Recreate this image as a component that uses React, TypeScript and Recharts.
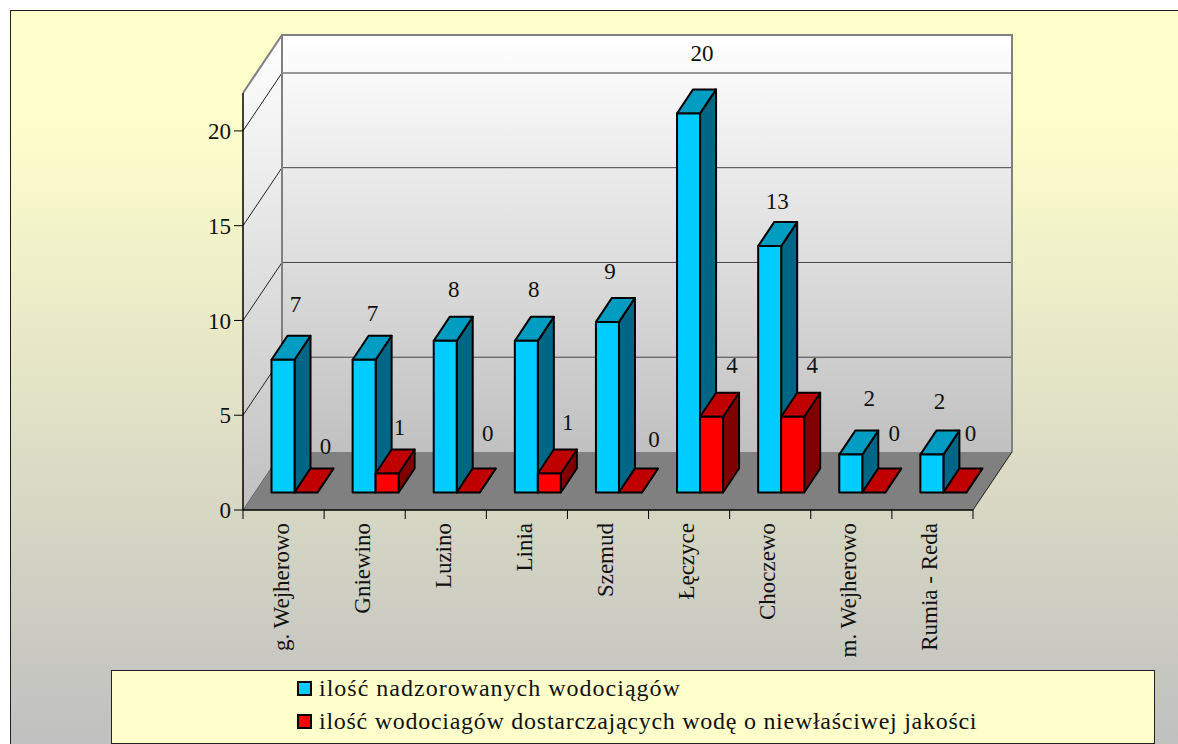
import { BarChart, Bar, XAxis, YAxis, Legend, LabelList } from "recharts";

const CATEGORIES = ["g. Wejherowo", "Gniewino", "Luzino", "Linia", "Szemud", "Łęczyce", "Choczewo", "m. Wejherowo", "Rumia - Reda"];
const SUPERVISED = [7, 7, 8, 8, 9, 20, 13, 2, 2];
const BAD_QUALITY = [0, 1, 0, 1, 0, 4, 4, 0, 0];
const Y_TICKS = [0, 5, 10, 15, 20];
const SUPERVISED_NAME = "ilość nadzorowanych wodociągów";
const BAD_QUALITY_NAME = "ilość wodociagów dostarczających wodę o niewłaściwej jakości";

const rows = CATEGORIES.map((name, i) => ({ name, supervised: SUPERVISED[i], bad: BAD_QUALITY[i] }));

const FONT = "'Liberation Serif', 'Times New Roman', serif";
const TEXT = "#111";

// plot box of the front face, in page pixels
const W = 1178;
const H = 744;
const LEFT = 243;
const RIGHT = 973;
const TOP = 93;
const BOTTOM = 510;
const Y_MAX = 22;
const UNIT = (BOTTOM - TOP) / Y_MAX;

// 3d offsets
const WALL_DX = 39;
const WALL_DY = -58;
const BAR_SHIFT_X = 11;
const BAR_SHIFT_Y = -17.5;
const BAR_DX = 16;
const BAR_DY = -24;

// hand nudges for the value labels, the original places them unevenly
const BLUE_NUDGE = [
  [4, -3], [0, 6], [0, 1], [-1, 1], [-6, 2], [5, -8], [-1, 7], [10, -4], [-1, -1],
];
const RED_NUDGE = [
  [0, 6], [-7, 6], [0, -7], [-1, 1], [4, -1], [1, 1], [0, 1], [1, -7], [-4, -7],
];
const LEGEND_SPACING = [1, 0.73];

const Walls = () => {
  const y = (v: number) => BOTTOM - v * UNIT;
  const bx = LEFT + WALL_DX;
  const by = (v: number) => y(v) + WALL_DY;
  const backTop = TOP + WALL_DY;
  const backBottom = BOTTOM + WALL_DY;
  return (
    <g>
      <defs>
        <linearGradient id="wall" x1="0" y1="0" x2="0" y2="1">
          <stop offset="0%" stopColor="#ffffff" />
          <stop offset="100%" stopColor="#c0c0c0" />
        </linearGradient>
      </defs>
      <polygon points={`${bx},${backTop} ${RIGHT + WALL_DX},${backTop} ${RIGHT + WALL_DX},${backBottom} ${bx},${backBottom}`} fill="url(#wall)" />
      <polygon points={`${LEFT},${TOP} ${bx},${backTop} ${bx},${backBottom} ${LEFT},${BOTTOM}`} fill="url(#wall)" />
      <polygon points={`${LEFT},${BOTTOM} ${bx},${backBottom} ${RIGHT + WALL_DX},${backBottom} ${RIGHT},${BOTTOM}`} fill="#808080" />
      {Y_TICKS.slice(1).map((v) => (
        <g key={v}>
          <line x1={LEFT} y1={y(v)} x2={bx} y2={by(v)} stroke="#222" strokeWidth={1} />
          <line x1={bx} y1={by(v)} x2={RIGHT + WALL_DX} y2={by(v)} stroke={v === 20 ? "#777" : "#444"} strokeWidth={v === 20 ? 1.5 : 1} />
        </g>
      ))}
      <polyline
        points={`${LEFT},${TOP} ${bx},${backTop} ${RIGHT + WALL_DX},${backTop} ${RIGHT + WALL_DX},${backBottom}`}
        fill="none" stroke="#808080" strokeWidth={2} />
      <line x1={bx} y1={backTop} x2={bx} y2={backBottom} stroke="#808080" strokeWidth={2} />
      <line x1={RIGHT} y1={BOTTOM} x2={RIGHT + WALL_DX} y2={backBottom} stroke="#222" strokeWidth={1} />
      <line x1={LEFT} y1={BOTTOM} x2={bx} y2={backBottom} stroke="#666" strokeWidth={1} />
    </g>
  );
};

const bar3d = (front: string, top: string, side: string) => (props: any) => {
  const { x, y, width, height } = props;
  const l = x + BAR_SHIFT_X;
  const r = l + width;
  const t = y + BAR_SHIFT_Y;
  const b = t + height;
  return (
    <g stroke="#000" strokeWidth={2} strokeLinejoin="round">
      <polygon points={`${r},${t} ${r + BAR_DX},${t + BAR_DY} ${r + BAR_DX},${b + BAR_DY} ${r},${b}`} fill={side} />
      <polygon points={`${l},${t} ${l + BAR_DX},${t + BAR_DY} ${r + BAR_DX},${t + BAR_DY} ${r},${t}`} fill={top} />
      <rect x={l} y={t} width={width} height={height} fill={front} />
    </g>
  );
};

const valueLabel = (nudge: number[][], dx: number, dy: number) => (props: any) => {
  const { x, y, value, index } = props;
  const n = nudge[index] || [0, 0];
  return (
    <text x={x + dx + n[0]} y={y + dy + n[1]} textAnchor="middle" fontFamily={FONT} fontSize={23} fill={TEXT}>
      {value}
    </text>
  );
};

const CategoryTick = (props: any) => {
  const { x, y, payload, index } = props;
  const half = (RIGHT - LEFT) / CATEGORIES.length / 2;
  return (
    <g>
      <line x1={x - half} y1={BOTTOM} x2={x - half} y2={BOTTOM + 9} stroke="#000" />
      {index === CATEGORIES.length - 1 && (
        <line x1={x + half} y1={BOTTOM} x2={x + half} y2={BOTTOM + 9} stroke="#000" />
      )}
      <text
        transform={`translate(${x + 5},${y + 5}) rotate(-90)`}
        textAnchor="end" fontFamily={FONT} fontSize={23} fill={TEXT}>
        {payload.value}
      </text>
    </g>
  );
};

const LegendBox = (props: any) => (
  <div style={{
    boxSizing: "border-box", width: 1044, height: 74, background: "#ffffcc",
    border: "1px solid #222", fontFamily: FONT, fontSize: 24, color: TEXT,
    paddingLeft: 185, paddingTop: 1,
  }}>
    {props.payload.map((p: any, i: number) => (
      <div key={p.value} style={{ display: "flex", alignItems: "center", height: 33, letterSpacing: LEGEND_SPACING[i] }}>
        <span style={{
          display: "inline-block", boxSizing: "border-box", width: 15, height: 15,
          background: p.color, border: "2px solid #000", marginRight: 7,
        }} />
        <span>{p.value}</span>
      </div>
    ))}
  </div>
);

export default function App() {
  return (
    <div style={{ position: "absolute", left: 0, top: 0, width: W, height: H, overflow: "hidden", background: "#fff" }}>
      <div style={{
        position: "absolute", left: 10, top: 10, width: W, height: H,
        boxSizing: "border-box", border: "1.5px solid #222",
        background: "linear-gradient(#ffffcc 100px, #c0c0c0 730px)",
      }} />
      <div style={{ position: "absolute", left: 0, top: 0 }}>
        <BarChart
          width={W} height={H} data={rows}
          margin={{ top: TOP, right: W - RIGHT, bottom: 0, left: 0 }}
          barCategoryGap={17.5} barGap={0}
        >
          <Walls />
          <XAxis
            dataKey="name" height={H - BOTTOM} interval={0}
            tickLine={false} axisLine={{ stroke: "#000", strokeWidth: 1.5 }}
            tick={<CategoryTick />}
          />
          <YAxis
            width={LEFT} domain={[0, Y_MAX]} ticks={Y_TICKS} interval={0} tickSize={9} tickMargin={3}
            axisLine={{ stroke: "#000", strokeWidth: 1.5 }} tickLine={{ stroke: "#000" }}
            tick={{ fontFamily: FONT, fontSize: 23, fill: TEXT }}
          />
          <Legend
            layout="vertical" align="center" verticalAlign="middle"
            wrapperStyle={{ left: 111, top: 670, width: 1044, height: 74 }}
            content={<LegendBox />}
          />
          <Bar dataKey="supervised" name={SUPERVISED_NAME} fill="#00ccff" isAnimationActive={false}
            shape={bar3d("#00ccff", "#009cc2", "#006685")}>
            <LabelList dataKey="supervised" content={valueLabel(BLUE_NUDGE, 31, -62) as any} />
          </Bar>
          <Bar dataKey="bad" name={BAD_QUALITY_NAME} fill="#ff0000" isAnimationActive={false}
            shape={bar3d("#ff0000", "#c00000", "#800000")}>
            <LabelList dataKey="bad" content={valueLabel(RED_NUDGE, 42, -62) as any} />
          </Bar>
        </BarChart>
      </div>
    </div>
  );
}
